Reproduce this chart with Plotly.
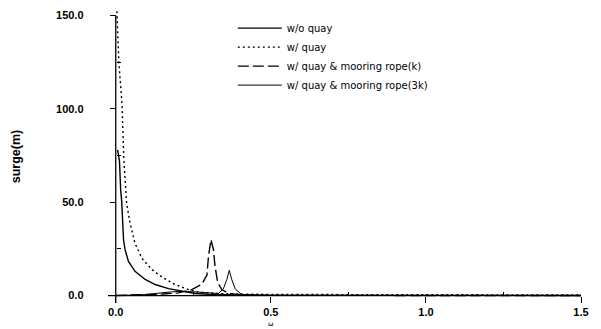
import plotly.graph_objects as go

# Surge response amplitude versus wave frequency omega
# --- w/o quay
omega_noquay = [0.006, 0.012, 0.016, 0.019, 0.025, 0.030, 0.041, 0.062, 0.095, 0.127,
                0.170, 0.213, 0.256, 0.30, 0.35, 0.40, 0.50, 0.75, 1.0, 1.25, 1.5]
surge_noquay = [78.0, 72.0, 56.0, 51.0, 30.0, 24.6, 18.3, 13.0, 8.6, 5.9,
                3.7, 2.3, 1.1, 0.7, 0.4, 0.2, 0.1, 0.05, 0.05, 0.05, 0.05]

# --- w/ quay
omega_quay = [0.003, 0.010, 0.020, 0.026, 0.035, 0.046, 0.062, 0.084, 0.116, 0.148,
              0.191, 0.234, 0.267, 0.30, 0.34, 0.40, 0.50, 0.75, 1.0, 1.25, 1.5]
surge_quay = [155.0, 125.0, 103.0, 73.0, 49.5, 38.9, 28.0, 20.0, 14.0, 10.0,
              5.9, 3.2, 1.8, 1.3, 1.0, 0.8, 0.6, 0.5, 0.4, 0.4, 0.3]

# --- w/ quay & mooring rope (k)
omega_rope_k = [0.0, 0.10, 0.15, 0.202, 0.245, 0.277, 0.294, 0.299, 0.307, 0.315,
                0.320, 0.329, 0.342, 0.364, 0.40, 0.50, 0.75, 1.0, 1.5]
surge_rope_k = [0.0, 0.3, 0.8, 1.4, 3.2, 5.9, 11.0, 21.0, 30.0, 24.6,
                15.7, 6.8, 3.2, 1.0, 0.4, 0.1, 0.05, 0.0, 0.0]

# --- w/ quay & mooring rope (3k)
omega_rope_3k = [0.0, 0.10, 0.15, 0.20, 0.25, 0.30, 0.331, 0.347, 0.358, 0.366,
                 0.374, 0.385, 0.406, 0.45, 0.50, 1.0, 1.5]
surge_rope_3k = [0.0, 0.5, 1.5, 2.2, 2.0, 1.2, 1.1, 3.6, 8.6, 13.5,
                 8.6, 3.6, 0.5, 0.2, 0.1, 0.0, 0.0]

series_names = ["w/o quay", "w/ quay", "w/ quay & mooring rope(k)",
                "w/ quay & mooring rope(3k)"]

x_ticks = [0.0, 0.5, 1.0, 1.5]
x_minor = [0.25, 0.75, 1.25]
y_ticks = [0.0, 50.0, 100.0, 150.0]
y_minor = [25.0, 75.0, 125.0]

X_MIN, X_MAX = -0.025, 1.5
Y_MIN, Y_MAX = -4.0, 153.0

fig = go.Figure()
fig.add_trace(go.Scatter(x=omega_noquay, y=surge_noquay, mode="lines",
                         name=series_names[0],
                         line=dict(color="#000000", width=1.4)))
fig.add_trace(go.Scatter(x=omega_quay, y=surge_quay, mode="lines",
                         name=series_names[1],
                         line=dict(color="#000000", width=1.4, dash="2px,3px")))
fig.add_trace(go.Scatter(x=omega_rope_k, y=surge_rope_k, mode="lines",
                         name=series_names[2],
                         line=dict(color="#000000", width=1.4, dash="11px,4px")))
fig.add_trace(go.Scatter(x=omega_rope_3k, y=surge_rope_3k, mode="lines",
                         name=series_names[3],
                         line=dict(color="#000000", width=1.0)))

tick_font = dict(family="Liberation Sans, Arial, sans-serif", size=11,
                 color="#000000", weight="bold")

fig.update_layout(
    width=601, height=329, autosize=False,
    margin=dict(l=108.25, r=20, t=10.4, b=25.5, pad=0, autoexpand=False),
    paper_bgcolor="white", plot_bgcolor="white",
    showlegend=True,
    legend=dict(
        x=(233 - 108.25) / 472.75, xanchor="left",
        y=(303.5 - 14) / 293.1, yanchor="top",
        bgcolor="rgba(0,0,0,0)", borderwidth=0,
        itemwidth=44, tracegroupgap=0,
        font=dict(family="DejaVu Sans, sans-serif", size=10, color="#000000"),
    ),
    xaxis=dict(
        range=[X_MIN, X_MAX], showgrid=False, zeroline=False, showline=False,
        automargin=False,
        anchor="free", position=(0 - Y_MIN) / (Y_MAX - Y_MIN),
        tickvals=x_ticks, tickformat=".1f", ticks="outside", ticklen=6,
        tickwidth=1.2, tickcolor="#000000", ticklabelstandoff=0,
        tickfont=tick_font,
        minor=dict(tickvals=x_minor, ticks="inside", ticklen=4,
                   tickwidth=1, tickcolor="#000000", showgrid=False),
    ),
    yaxis=dict(
        range=[Y_MIN, Y_MAX], showgrid=False, zeroline=False, showline=False,
        automargin=False,
        anchor="free", position=(0 - X_MIN) / (X_MAX - X_MIN),
        tickvals=y_ticks, tickformat=".1f", ticks="outside", ticklen=6,
        tickwidth=1.2, tickcolor="#000000", ticklabelstandoff=24,
        tickfont=tick_font,
        minor=dict(tickvals=y_minor, ticks="inside", ticklen=4,
                   tickwidth=1, tickcolor="#000000", showgrid=False),
    ),
    shapes=[
        # crossing axis lines through the origin
        dict(type="line", xref="x", yref="y", x0=X_MIN, x1=X_MAX, y0=0, y1=0,
             line=dict(color="#000000", width=1.3), layer="below"),
        dict(type="line", xref="x", yref="y", x0=0, x1=0, y0=Y_MIN, y1=150,
             line=dict(color="#000000", width=1.3), layer="below"),
    ],
    annotations=[
        dict(text="surge(m)", textangle=-90, xref="paper", yref="paper",
             x=(16 - 108.25) / 472.75, y=(303.5 - 157) / 293.1,
             xanchor="center", yanchor="middle", showarrow=False,
             font=dict(family="Liberation Sans, Arial, sans-serif", size=12.5,
                       color="#000000", weight="bold")),
        dict(text="ω", xref="x", yref="paper",
             x=0.5, y=(303.5 - 330) / 293.1,
             xanchor="center", yanchor="bottom", showarrow=False,
             borderpad=0,
             font=dict(family="DejaVu Sans, sans-serif", size=6.5,
                       color="#000000")),
    ],
)

fig.write_html("out.html")
